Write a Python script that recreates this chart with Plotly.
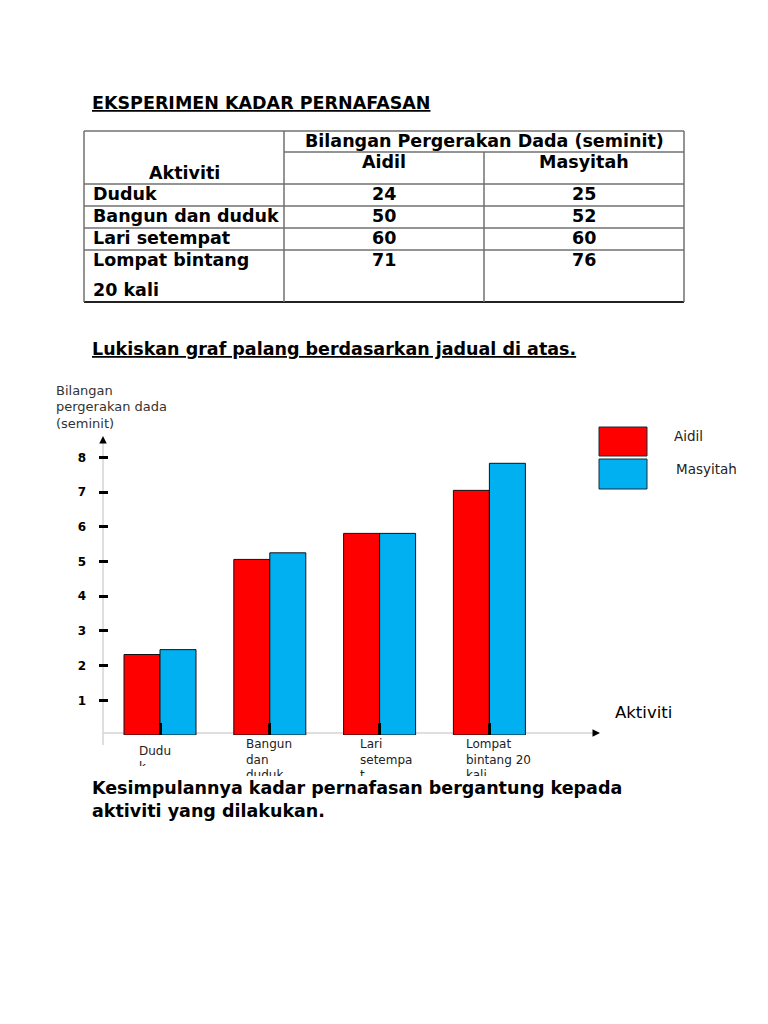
import plotly.graph_objects as go

# ---------------- data ----------------
title_text = "EKSPERIMEN KADAR PERNAFASAN"
table_group_header = "Bilangan Pergerakan Dada (seminit)"
table_first_header = "Aktiviti"
series_names = ["Aidil", "Masyitah"]
table_activities = ["Duduk", "Bangun dan duduk", "Lari setempat", "Lompat bintang|20 kali"]
table_aidil = [24, 50, 60, 71]
table_masyitah = [25, 52, 60, 76]
instruction_text = "Lukiskan graf palang berdasarkan jadual di atas."

y_axis_title = ["Bilangan", "pergerakan dada", "(seminit)"]
x_axis_title = "Aktiviti"
chart_categories = ["Dudu<br>k", "Bangun<br>dan<br>duduk", "Lari<br>setempa<br>t", "Lompat<br>bintang 20<br>kali"]
chart_aidil = [2.32, 5.06, 5.81, 7.05]
chart_masyitah = [2.46, 5.25, 5.81, 7.83]
y_tick_values = [1, 2, 3, 4, 5, 6, 7, 8]
conclusion_lines = ["Kesimpulannya kadar pernafasan bergantung kepada", "aktiviti yang dilakukan."]

colors = ["#FF0000", "#00B0F0"]

# ---------------- helpers ----------------
W, H = 768, 1024
FONT = "DejaVu Sans"


def px(x):
    return x / W


def py(y):
    return 1 - y / H


annotations = []
shapes = []


def add_text(x, y, s, size, bold=False, xanchor="left", yanchor="middle", color="black", **kw):
    if bold:
        s = "<b>" + s + "</b>"
    annotations.append(dict(
        x=px(x), y=py(y), xref="paper", yref="paper", text=s, showarrow=False,
        xanchor=xanchor, yanchor=yanchor,
        font=dict(family=FONT, size=size, color=color), **kw))


def add_line(x0, y0, x1, y1, color="#666666", width=1.5, layer="above"):
    shapes.append(dict(type="line", xref="paper", yref="paper", layer=layer,
                       x0=px(x0), y0=py(y0), x1=px(x1), y1=py(y1),
                       line=dict(color=color, width=width)))


# ---------------- title ----------------
add_text(90, 103, "<u>" + title_text + "</u>", 17.5, bold=True)

# ---------------- table ----------------
cols = [84, 284, 484, 684]
rows = [131, 152, 184, 206, 228, 250, 302]
TC = "#707070"
add_line(cols[0], rows[0], cols[3], rows[0], TC)
add_line(cols[1], rows[1], cols[3], rows[1], TC)
for r in rows[2:-1]:
    add_line(cols[0], r, cols[3], r, TC)
add_line(cols[0], rows[-1], cols[3], rows[-1], "#222222", 2)
add_line(cols[0], rows[0], cols[0], rows[-1], TC)
add_line(cols[3], rows[0], cols[3], rows[-1], TC)
add_line(cols[1], rows[0], cols[1], rows[-1], TC)
add_line(cols[2], rows[1], cols[2], rows[-1], TC)

TS = 17.5
add_text((cols[1] + cols[3]) / 2, 141, table_group_header, TS, bold=True, xanchor="center")
add_text((cols[0] + cols[1]) / 2, 173, table_first_header, TS, bold=True, xanchor="center")
add_text((cols[1] + cols[2]) / 2, 162, series_names[0], TS, bold=True, xanchor="center")
add_text((cols[2] + cols[3]) / 2, 162, series_names[1], TS, bold=True, xanchor="center")
row_centers = [194, 216, 238, 260]
for i, act in enumerate(table_activities):
    parts = act.split("|")
    add_text(91, row_centers[i], parts[0], TS, bold=True)
    if len(parts) > 1:
        add_text(91, row_centers[i] + 30, parts[1], TS, bold=True)
    add_text((cols[1] + cols[2]) / 2, row_centers[i], str(table_aidil[i]), TS, bold=True, xanchor="center")
    add_text((cols[2] + cols[3]) / 2, row_centers[i], str(table_masyitah[i]), TS, bold=True, xanchor="center")

# ---------------- instruction ----------------
add_text(90, 349, "<u>" + instruction_text + "</u>", 17.5, bold=True)

# ---------------- chart ----------------
X0_PX, X1_PX = 103, 600          # x axis extent
CAT0_PX, CAT_STEP = 160, 109.8   # category centre spacing
Y0_PX, YTOP_PX, Y_STEP = 735, 440, 34.7

idx = list(range(len(chart_categories)))
fig = go.Figure()
for name, vals, col in zip(series_names, [chart_aidil, chart_masyitah], colors):
    fig.add_trace(go.Bar(x=idx, y=vals, name=name, marker=dict(color=col, line=dict(color="#111111", width=1)),
                         showlegend=False))

# axis lines (gray) with black arrowheads
add_line(103, 745, 103, 441, "#d4d4d4", 1.5, layer="below")
add_line(103, 733, 594, 733, "#d4d4d4", 1.5, layer="below")
annotations.append(dict(x=px(103), y=py(436), xref="paper", yref="paper", text="", showarrow=True,
                        ax=0, ay=7, arrowhead=2, arrowsize=1, arrowwidth=1.5, arrowcolor="black"))
annotations.append(dict(x=px(600), y=py(733), xref="paper", yref="paper", text="", showarrow=True,
                        ax=-7, ay=0, arrowhead=2, arrowsize=1, arrowwidth=1.5, arrowcolor="black"))

# y-axis title
for i, line in enumerate(y_axis_title):
    add_text(54, 390 + i * 16.5, line, 13, color="#333333")

# x-axis title
add_text(613, 712, x_axis_title, 16.5)

# legend
leg_y = [(427, 456), (459, 489)]
leg_txt = [(672, 436), (674, 469)]
for i, name in enumerate(series_names):
    shapes.append(dict(type="rect", xref="paper", yref="paper",
                       x0=px(599), x1=px(647), y0=py(leg_y[i][0]), y1=py(leg_y[i][1]),
                       fillcolor=colors[i], line=dict(color="#1a2a3a", width=1)))
    add_text(leg_txt[i][0], leg_txt[i][1], name, 13.5, color="#222222")

# category labels (clipped boxes, as in the reference)
label_x = [137, 244, 358, 464]
label_top = [742, 735, 735, 735]
label_h = [22, 39, 39, 39]
for i, lab in enumerate(chart_categories):
    annotations.append(dict(x=px(label_x[i]), y=py(label_top[i]), xref="paper", yref="paper",
                            text=lab, showarrow=False, xanchor="left", yanchor="top",
                            align="left", valign="top", width=95, height=label_h[i],
                            font=dict(family=FONT, size=12, color="#222222")))

# conclusion
add_text(90, 788, conclusion_lines[0], 17.5, bold=True)
add_text(90, 811, conclusion_lines[1], 17.5, bold=True)

fig.update_layout(
    width=W, height=H, margin=dict(l=0, r=0, t=0, b=0),
    paper_bgcolor="white", plot_bgcolor="rgba(0,0,0,0)",
    barmode="group", bargap=1 - 2 * 36 / CAT_STEP, bargroupgap=0,
    xaxis=dict(domain=[px(X0_PX), px(X1_PX)],
               range=[(X0_PX - CAT0_PX) / CAT_STEP, (X1_PX - CAT0_PX) / CAT_STEP],
               tickvals=idx, ticks="inside", ticklen=12, tickwidth=3, tickcolor="black",
               showticklabels=False, showgrid=False, zeroline=False, showline=False),
    yaxis=dict(domain=[py(Y0_PX), py(YTOP_PX)], range=[0, (Y0_PX - YTOP_PX) / Y_STEP],
               anchor="free", position=px(107.5),
               tickvals=y_tick_values, ticks="outside", ticklen=9, tickwidth=3, tickcolor="black",
               tickfont=dict(family=FONT, size=12, color="black", weight="bold"),
               ticklabelstandoff=10,
               showgrid=False, zeroline=False, showline=False),
    shapes=shapes, annotations=annotations,
    font=dict(family=FONT),
)

fig.write_html("out.html", config={"displayModeBar": False},
               post_script="document.body.style.margin='0';")
